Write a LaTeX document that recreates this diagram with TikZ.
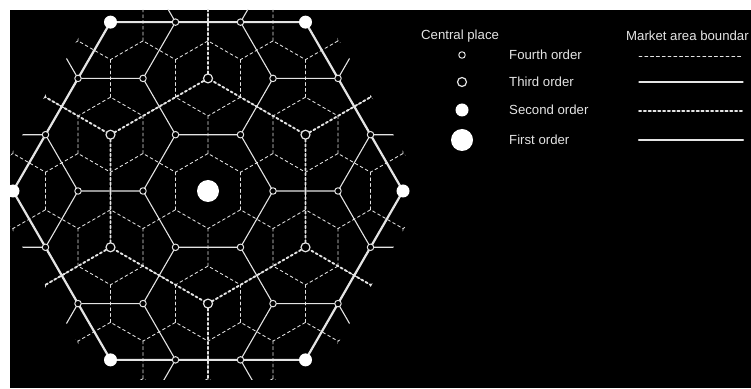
\documentclass[tikz,border=0pt]{standalone}
\usepackage{fontspec}
\setmainfont{Liberation Sans}
\usepackage{tikz}
\usetikzlibrary{calc}

\definecolor{chalk}{RGB}{228,228,228}

\begin{document}
\begin{tikzpicture}[x=1pt,y=1pt,line cap=round,line join=round,
    bnd4/.style={chalk,line width=0.85pt,dash pattern=on 3pt off 2.8pt},
    bnd3/.style={chalk,line width=1.1pt},
    bnd2/.style={chalk,line width=1.9pt,dash pattern=on 2.2pt off 2.6pt},
    bnd1/.style={chalk,line width=2.2pt},
    cp1/.style={circle,fill=white,inner sep=0pt,minimum size=22pt},
    cp2/.style={circle,fill=white,inner sep=0pt,minimum size=13pt},
    cp3/.style={circle,draw=chalk,fill=black,line width=1.2pt,inner sep=0pt,minimum size=9pt},
    cp4/.style={circle,draw=chalk,fill=black,line width=1pt,inner sep=0pt,minimum size=6.5pt},
    txt/.style={anchor=west,inner sep=0pt,text=chalk,font=\fontsize{13.2pt}{15pt}\selectfont}]
  % background
  \useasboundingbox (0,0) rectangle (751,388);
  \fill[black] (10,0) rectangle (751,378);
  \coordinate (C) at (208,197);

  % market areas
  \begin{scope}
    \clip (10,0) rectangle (751,378);
    \clip (C) +(0:218) -- +(60:218) -- +(120:218) -- +(180:218) -- +(240:218) -- +(300:218) -- cycle;
    % fourth order
    \foreach \i in {-5,...,5}
      \foreach \j in {-5,...,5}
        \draw[bnd4,shift={($(C)+(\i*65+\j*32.5,\j*56.292)$)}]
          (-30:37.528) -- (30:37.528) -- (90:37.528) -- (150:37.528);
    % third order
    \foreach \i in {-3,...,3}
      \foreach \j in {-3,...,3}
        \draw[bnd3,shift={($(C)+(\i*97.5,\i*56.292+\j*112.583)$)}]
          (-60:65) -- (0:65) -- (60:65) -- (120:65);
    % second order
    \foreach \i in {-2,...,2}
      \foreach \j in {-2,...,2}
        \draw[bnd2,shift={($(C)+(\i*195+\j*97.5,\j*168.875)$)}]
          (-30:112.583) -- (30:112.583) -- (90:112.583) -- (150:112.583);
  \end{scope}
  % first order
  \draw[bnd1] (C) +(0:195) -- +(60:195) -- +(120:195) -- +(180:195) -- +(240:195) -- +(300:195) -- cycle;

  % central places
  \foreach \i in {-3,...,3}
    \foreach \j in {-3,...,3} {
      \pgfmathtruncatemacro\ok{(abs(\i+\j)<=3)&&(mod(\i-\j+9,3)!=0)}
      \ifnum\ok=1
        \node[cp4] (f\i:\j) at ($(C)+(\i*65+\j*32.5,\j*56.292)$) {};
      \fi
    }
  \foreach \a in {30,90,...,330}
    \node[cp3] (t\a) at ($(C)+(\a:112.583)$) {};
  \foreach \a in {0,60,...,300}
    \node[cp2] (s\a) at ($(C)+(\a:195)$) {};
  \node[cp1] (first) at (C) {};

  % legend
  \node[txt] (placehead) at (421,352) {Central place};
  \node[cp4] (key4) at (462,333) {};
  \node[cp3] (key3) at (462,306) {};
  \node[cp2] (key2) at (462,278) {};
  \node[cp1] (key1) at (462,248) {};
  \node[txt] (name4) at (509,333) {Fourth order};
  \node[txt] (name3) at (509,306) {Third order};
  \node[txt] (name2) at (509,278) {Second order};
  \node[txt] (name1) at (509,248) {First order};
  \node[txt] (areahead) at (626,352) {Market area boundar};
  \coordinate (b4a) at (639,332); \coordinate (b4b) at (743,332);
  \coordinate (b3a) at (639,306); \coordinate (b3b) at (743,306);
  \coordinate (b2a) at (639,277); \coordinate (b2b) at (743,277);
  \coordinate (b1a) at (639,248); \coordinate (b1b) at (743,248);
  \draw[bnd4] (b4a) -- (b4b);
  \draw[bnd3] (b3a) -- (b3b);
  \draw[bnd2] (b2a) -- (b2b);
  \draw[bnd1] (b1a) -- (b1b);
\end{tikzpicture}
\end{document}
